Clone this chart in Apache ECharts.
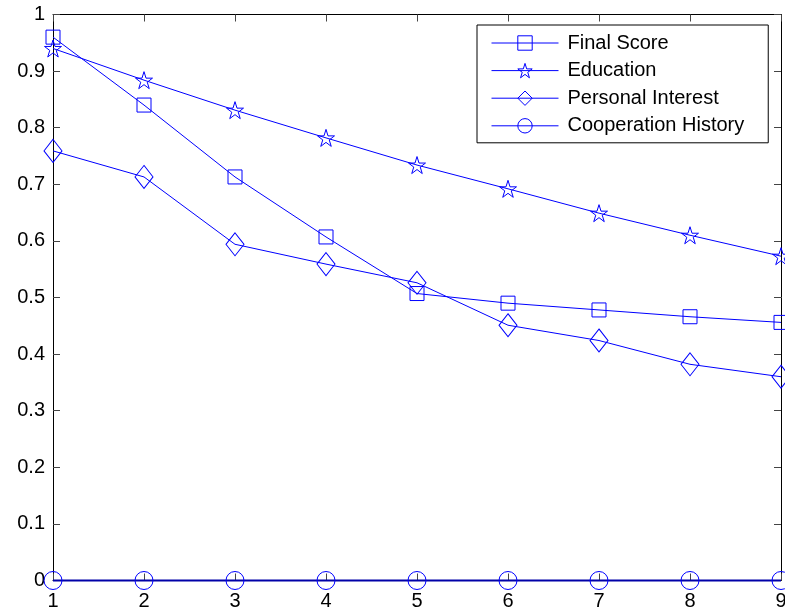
<!DOCTYPE html>
<html>
<head>
<meta charset="utf-8">
<script src="https://cdn.jsdelivr.net/npm/echarts@6/dist/echarts.min.js"></script>
<style>
  html, body { margin: 0; padding: 0; background: #fff; }
  #chart { width: 785px; height: 609px; }
</style>
</head>
<body>
<div id="chart"></div>
<script>
// Rank positions along the horizontal axis
const ranks = [1, 2, 3, 4, 5, 6, 7, 8, 9];

// Normalised scores per criterion
const finalScore         = [0.960, 0.840, 0.713, 0.607, 0.507, 0.490, 0.478, 0.466, 0.456];
const education          = [0.940, 0.884, 0.831, 0.782, 0.734, 0.692, 0.649, 0.610, 0.573];
const personalInterest   = [0.759, 0.713, 0.594, 0.559, 0.526, 0.451, 0.424, 0.382, 0.360];
const cooperationHistory = [0, 0, 0, 0, 0, 0, 0, 0, 0];

const seriesNames = ['Final Score', 'Education', 'Personal Interest', 'Cooperation History'];

const BLUE = '#0000ff';
const CLEAR = 'rgba(0,0,0,0)';
const FONT = '"Liberation Sans", Arial, Helvetica, sans-serif';
const STAR = 'path://M0,-10 L2.245,-3.09 L9.51,-3.09 L3.633,1.18 L5.878,8.09 L0,3.82 L-5.878,8.09 L-3.633,1.18 L-9.51,-3.09 L-2.245,-3.09 Z';

function pairs(values) {
  return ranks.map((r, i) => [r, values[i]]);
}

function lineSeries(name, values, symbol, size, lineColor, lineWidth) {
  return {
    name: name,
    type: 'line',
    data: pairs(values),
    symbol: symbol,
    symbolSize: size,
    showAllSymbol: true,
    clip: false,
    lineStyle: { color: lineColor || BLUE, width: lineWidth || 1 },
    itemStyle: { color: CLEAR, borderColor: BLUE, borderWidth: 1 },
    emphasis: { disabled: true },
    animation: false
  };
}

const tickStyle = { show: true, inside: true, length: 7, lineStyle: { color: '#444', width: 1 } };
const frameLine = { show: true, onZero: false, lineStyle: { color: '#000', width: 1 } };

const chart = echarts.init(document.getElementById('chart'), null, { renderer: 'canvas' });

chart.setOption({
  backgroundColor: '#fff',
  animation: false,
  grid: { left: 53, right: 4, top: 14.5, bottom: 28.5, outerBoundsMode: 'none', containLabel: false },
  legend: {
    data: seriesNames,
    orient: 'vertical',
    left: 477,
    top: 25,
    padding: [8, 24, 7, 14],
    itemWidth: 67,
    itemHeight: 18,
    itemGap: 7.6,
    borderColor: '#000',
    borderWidth: 1,
    backgroundColor: '#fff',
    selectedMode: false,
    itemStyle: { color: CLEAR, borderColor: BLUE, borderWidth: 1 },
    lineStyle: { color: BLUE, width: 1 },
    textStyle: { fontFamily: FONT, fontSize: 20, color: '#000', lineHeight: 20, padding: [0, 0, 0, 4] }
  },
  xAxis: [
    {
      type: 'value', position: 'bottom', min: 1, max: 9, interval: 1,
      axisLine: frameLine, axisTick: tickStyle, splitLine: { show: false },
      axisLabel: { fontFamily: FONT, fontSize: 20, color: '#000', margin: 11 }
    },
    {
      type: 'value', position: 'top', min: 1, max: 9, interval: 1,
      axisLine: frameLine, axisTick: tickStyle, splitLine: { show: false },
      axisLabel: { show: false }
    }
  ],
  yAxis: [
    {
      type: 'value', position: 'left', min: 0, max: 1, interval: 0.1,
      axisLine: frameLine, axisTick: tickStyle, splitLine: { show: false },
      axisLabel: { fontFamily: FONT, fontSize: 20, color: '#000', margin: 8 }
    },
    {
      type: 'value', position: 'right', min: 0, max: 1, interval: 0.1,
      axisLine: frameLine, axisTick: tickStyle, splitLine: { show: false },
      axisLabel: { show: false }
    }
  ],
  series: [
    lineSeries(seriesNames[0], finalScore, 'rect', 14),
    lineSeries(seriesNames[1], education, STAR, 17),
    lineSeries(seriesNames[2], personalInterest, 'diamond', [18, 23]),
    // the zero line sits on the bottom frame, so it reads darker and heavier
    lineSeries(seriesNames[3], cooperationHistory, 'circle', 18, '#0000a8', 2)
  ]
});
</script>
</body>
</html>
